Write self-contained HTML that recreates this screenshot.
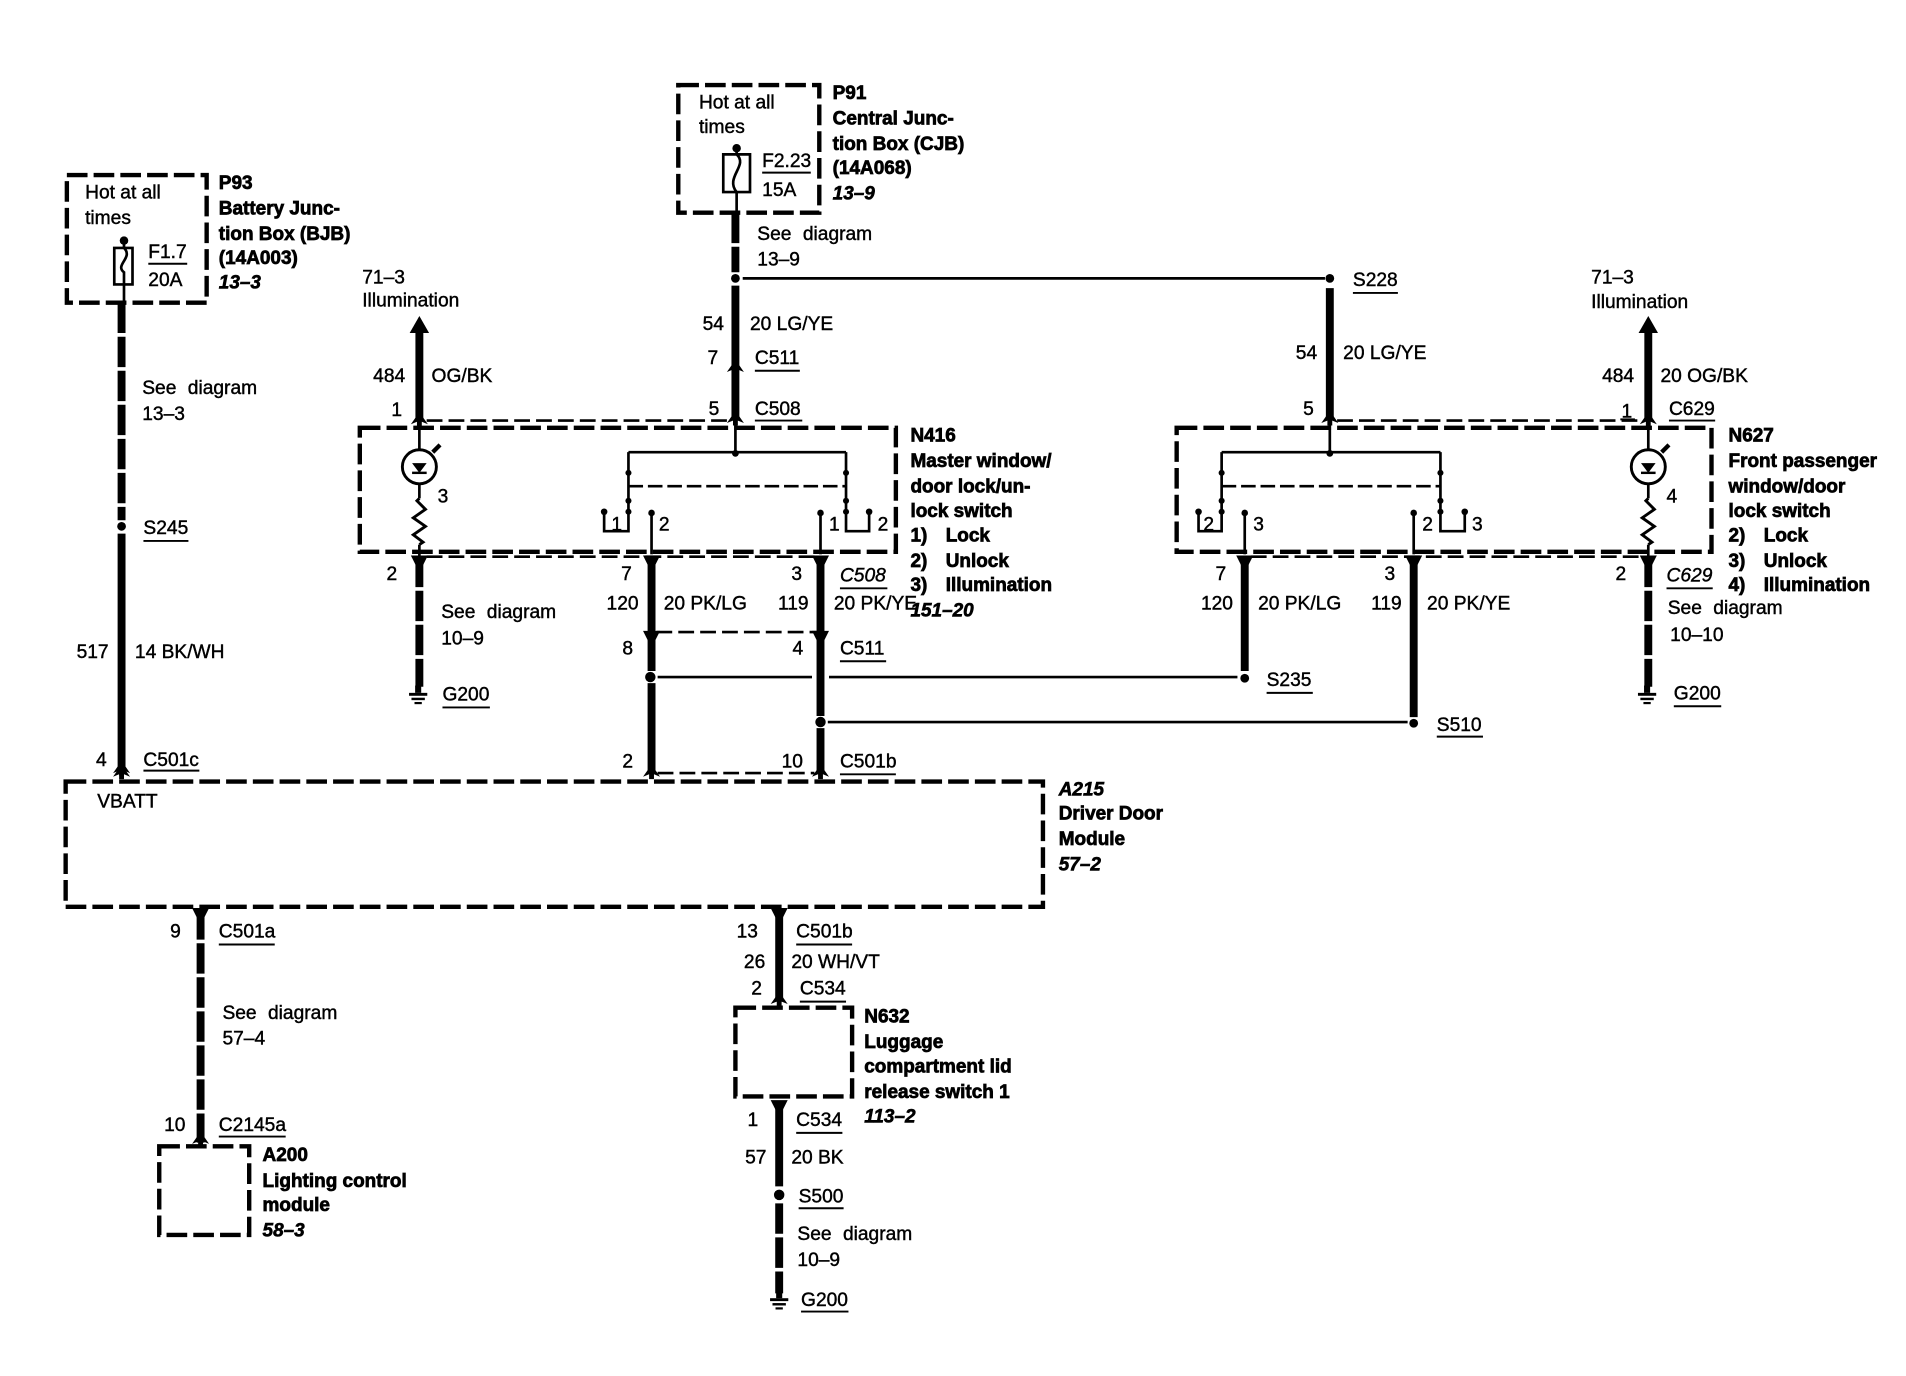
<!DOCTYPE html>
<html><head><meta charset="utf-8"><title>Wiring diagram</title>
<style>
html,body{margin:0;padding:0;background:#fff}
svg{display:block}
text{font-family:"Liberation Sans",sans-serif;font-size:15.8px;dominant-baseline:central;fill:#000;stroke:#000;stroke-width:.35;transform:translateY(.8px)}
.b{font-weight:bold;font-size:15.6px;stroke-width:.6}
.i{font-weight:bold;font-style:italic;font-size:15.6px;stroke-width:.5}
.it{font-style:italic}
.s{word-spacing:5px}
.w{fill:none;stroke:#000;stroke-width:6.5}
.d{fill:none;stroke:#000;stroke-width:6.5;stroke-dasharray:25 3}
.t{fill:none;stroke:#000;stroke-width:2.2}
.c{fill:none;stroke:#000;stroke-width:2.2;stroke-dasharray:13 5}
.x{fill:none;stroke:#000;stroke-width:3.6;stroke-dasharray:17 5}
.u{fill:none;stroke:#000;stroke-width:1.6}
</style></head><body>
<svg width="1906" height="1376" viewBox="0 0 1568 1132" xmlns="http://www.w3.org/2000/svg">
<defs>
<path id="up" d="M0,-7 L7,3 L2,1 L2,5 L-2,5 L-2,1 L-7,3 Z"/>
<path id="dn" d="M-7,-3 L7,-3 L2,7 L-2,7 Z"/>
<g id="gnd"><rect x="-2.5" y="-7" width="5" height="6"/><rect x="-7.5" y="-1" width="15" height="2.4"/><rect x="-5.5" y="3" width="11" height="2"/><rect x="-3" y="6.5" width="6" height="1.8"/></g>
<g id="lamp" fill="none" stroke="#000"><circle r="14" stroke-width="2.4"/><path d="M-6,-3 L6,-3 L0,5 Z" fill="#000" stroke="none"/><path d="M-6,5 L6,5" stroke-width="2"/><path d="M11,-12 L17,-18" stroke-width="3.5"/></g>
<path id="res" d="M0,0 L-2,2 L5,9 L-5,16 L5,23 L-5,30 L3,36 L0,38" fill="none" stroke="#000" stroke-width="2.4"/>
</defs>

<!-- P93 -->
<rect class="x" x="55" y="144" width="115" height="105"/>
<text x="70" y="158">Hot at all</text><text x="70" y="179">times</text>
<circle cx="102" cy="198" r="3.5"/><path class="t" d="M102,198V204M94,204H109V234H94ZM102,204C110,212 94,218 102,224V234M102,234V250"/>
<text x="122" y="207">F1.7</text><path class="u" d="M122,217H154"/><text x="122" y="230">20A</text>
<text class="b" x="180" y="150">P93</text><text class="b" x="180" y="171">Battery Junc-</text><text class="b" x="180" y="192">tion Box (BJB)</text><text class="b" x="180" y="212">(14A003)</text><text class="i" x="180" y="232">13–3</text>
<path class="d" d="M100,249V428"/><circle cx="100" cy="433" r="3.6"/><path class="w" d="M100,439V632"/><use href="#up" x="100" y="633"/>
<text class="s" x="117" y="319">See diagram</text><text x="117" y="340">13–3</text>
<text x="118" y="434">S245</text><path class="u" d="M118,445H155"/>
<text x="63" y="536">517</text><text x="111" y="536">14 BK/WH</text>
<text x="79" y="625">4</text><text x="118" y="625">C501c</text><path class="u" d="M118,634H164"/>

<!-- A215 -->
<rect class="x" x="54" y="643" width="804" height="103"/>
<text x="80" y="659">VBATT</text>
<text class="i" x="871" y="649">A215</text><text class="b" x="871" y="669">Driver Door</text><text class="b" x="871" y="690">Module</text><text class="i" x="871" y="711">57–2</text>

<!-- A200 -->
<use href="#dn" x="165" y="750"/>
<path class="d" d="M165,748V940"/><use href="#up" x="165" y="938"/>
<text x="140" y="766">9</text><text x="180" y="766">C501a</text><path class="u" d="M180,777H226"/>
<text class="s" x="183" y="833">See diagram</text><text x="183" y="854">57–4</text>
<text x="135" y="925">10</text><text x="180" y="925">C2145a</text><path class="u" d="M180,935H235"/>
<rect class="x" x="131" y="943" width="74" height="73"/>
<text class="b" x="216" y="950">A200</text><text class="b" x="216" y="971">Lighting control</text><text class="b" x="216" y="991">module</text><text class="i" x="216" y="1012">58–3</text>

<!-- N632 -->
<use href="#dn" x="641" y="750"/><path class="w" d="M641,748V824"/><use href="#up" x="641" y="823"/>
<text x="606" y="766">13</text><text x="655" y="766">C501b</text><path class="u" d="M655,777H701"/>
<text x="612" y="791">26</text><text x="651" y="791">20 WH/VT</text>
<text x="618" y="813">2</text><text x="658" y="813">C534</text><path class="u" d="M658,824H696"/>
<rect class="x" x="605" y="829" width="96" height="73"/>
<text class="b" x="711" y="836">N632</text><text class="b" x="711" y="857">Luggage</text><text class="b" x="711" y="877">compartment lid</text><text class="b" x="711" y="898">release switch 1</text><text class="i" x="711" y="918">113–2</text>
<use href="#dn" x="641" y="908"/><path class="w" d="M641,906V976"/>
<text x="615" y="921">1</text><text x="655" y="921">C534</text><path class="u" d="M655,932H693"/>
<text x="613" y="952">57</text><text x="651" y="952">20 BK</text>
<circle cx="641" cy="983" r="4.3"/><text x="657" y="984">S500</text><path class="u" d="M657,994H694"/>
<path class="d" d="M641,990V1064"/><use href="#gnd" x="641" y="1069"/>
<text class="s" x="656" y="1015">See diagram</text><text x="656" y="1036">10–9</text>
<text x="659" y="1069">G200</text><path class="u" d="M659,1079H698"/>

<!-- P91 -->
<rect class="x" x="558" y="70" width="116" height="105"/>
<text x="575" y="84">Hot at all</text><text x="575" y="104">times</text>
<circle cx="606" cy="122" r="3.5"/><path class="t" d="M606,122V127M595,127H617V158H595ZM606,127C616,136 596,146 606,158V175"/>
<text x="627" y="132">F2.23</text><path class="u" d="M627,142H667"/><text x="627" y="156">15A</text>
<text class="b" x="685" y="76">P91</text><text class="b" x="685" y="97">Central Junc-</text><text class="b" x="685" y="118">tion Box (CJB)</text><text class="b" x="685" y="138">(14A068)</text><text class="i" x="685" y="159">13–9</text>
<path class="d" d="M605,175V224"/><circle cx="605" cy="229" r="3.6"/><path class="w" d="M605,235V345"/><use href="#up" x="605" y="303"/><use href="#up" x="605" y="345"/>
<text class="s" x="623" y="192">See diagram</text><text x="623" y="213">13–9</text>
<path class="t" d="M611,229H1090"/><circle cx="1094" cy="229" r="3.6"/>
<text x="1113" y="230">S228</text><path class="u" d="M1113,241H1150"/>
<text x="578" y="266">54</text><text x="617" y="266">20 LG/YE</text>
<text x="582" y="294">7</text><text x="621" y="294">C511</text><path class="u" d="M621,305H658"/>
<text x="583" y="336">5</text><text x="621" y="336">C508</text><path class="u" d="M621,346H660"/>

<!-- 71-3 left -->
<path class="w" d="M345,272V346"/><path d="M345,260L353,274H337Z"/><use href="#up" x="345" y="346"/>
<text x="298" y="228">71–3</text><text x="298" y="247">Illumination</text>
<text x="307" y="309">484</text><text x="355" y="309">OG/BK</text><text x="322" y="337">1</text>
<path class="c" d="M351,346H600"/>

<!-- N416 -->
<rect class="x" x="296" y="352" width="441" height="102"/>
<path class="t" d="M345,347V371M345,397V410M345,448V458"/><use href="#lamp" x="345" y="384"/><use href="#res" x="345" y="410"/>
<text x="360" y="408">3</text>
<text class="b" x="749" y="358">N416</text><text class="b" x="749" y="379">Master window/</text><text class="b" x="749" y="400">door lock/un-</text><text class="b" x="749" y="420">lock switch</text><text class="b" x="749" y="440">1)</text><text class="b" x="778" y="440">Lock</text><text class="b" x="749" y="461">2)</text><text class="b" x="778" y="461">Unlock</text><text class="b" x="749" y="481">3)</text><text class="b" x="778" y="481">Illumination</text>
<path class="t" d="M605,347V372M517,372H696M517,372V420M696,372V420"/>
<circle cx="605" cy="373" r="2.8"/><circle cx="517" cy="389" r="2.5"/><circle cx="696" cy="389" r="2.5"/><circle cx="517" cy="412" r="2.5"/><circle cx="696" cy="412" r="2.5"/><circle cx="517" cy="421" r="2.5"/><circle cx="696" cy="421" r="2.5"/>
<path class="c" d="M517,400H696" style="stroke-dasharray:12 4"/>
<circle cx="497" cy="421" r="2.7"/><path class="t" d="M497,421V437H517V421"/><text x="503" y="431">1</text>
<circle cx="536" cy="422" r="2.7"/><path class="t" d="M536,422V456"/><text x="542" y="431">2</text>
<circle cx="675" cy="422" r="2.7"/><path class="t" d="M675,422V456"/><text x="682" y="431">1</text>
<circle cx="715" cy="421" r="2.7"/><path class="t" d="M696,421V437H715V421"/><text x="722" y="431">2</text>

<use href="#dn" x="345" y="460"/><use href="#dn" x="536" y="460"/><use href="#dn" x="675" y="460"/>
<path class="c" d="M351,458H670"/>
<path class="d" d="M345,458V565"/><use href="#gnd" x="344" y="571"/>
<text x="318" y="472">2</text><text class="s" x="363" y="503">See diagram</text><text x="363" y="525">10–9</text>
<text x="364" y="571">G200</text><path class="u" d="M364,582H403"/>
<path class="w" d="M536,458V552M536,562V634M675,458V589M675,599V634"/>
<use href="#dn" x="536" y="522"/><use href="#dn" x="675" y="522"/>
<circle cx="535" cy="557" r="4.3"/><circle cx="675" cy="594" r="4.3"/>
<text x="511" y="472">7</text><text x="651" y="472">3</text><text class="it" x="691" y="473">C508</text><path class="u" d="M691,484H730"/>
<text x="499" y="496">120</text><text x="546" y="496">20 PK/LG</text><text x="640" y="496">119</text><text x="686" y="496">20 PK/YE</text>
<text class="i" x="749" y="502">151–20</text>
<path class="c" d="M540,520H672"/>
<text x="512" y="533">8</text><text x="652" y="533">4</text><text x="691" y="533">C511</text><path class="u" d="M691,544H729"/>
<path class="t" d="M541,557H668M682,557H1018"/><circle cx="1024" cy="558" r="3.6"/><text x="1042" y="559">S235</text><path class="u" d="M1042,570H1080"/>
<path class="t" d="M681,594H1158"/><circle cx="1163" cy="595" r="3.6"/><text x="1182" y="596">S510</text><path class="u" d="M1182,606H1220"/>
<text x="512" y="626">2</text><text x="643" y="626">10</text><text x="691" y="626">C501b</text><path class="u" d="M691,637H737"/>
<use href="#up" x="536" y="636"/><use href="#up" x="675" y="636"/><path class="c" d="M541,636H670"/>
<use href="#up" x="100" y="636"/>

<!-- right -->
<path class="w" d="M1094,237V345"/><use href="#up" x="1094" y="345"/>
<text x="1066" y="290">54</text><text x="1105" y="290">20 LG/YE</text><text x="1072" y="336">5</text>
<path class="c" d="M1100,346H1350"/>
<path class="w" d="M1356,272V346"/><path d="M1356,260L1364,274H1348Z"/><use href="#up" x="1356" y="346"/>
<text x="1309" y="228">71–3</text><text x="1309" y="248">Illumination</text>
<text x="1318" y="309">484</text><text x="1366" y="309">20 OG/BK</text>
<text x="1334" y="338">1</text><path class="u" d="M1333,345H1345"/><text x="1373" y="336">C629</text><path class="u" d="M1373,346H1411"/>

<rect class="x" x="968" y="352" width="440" height="102"/>
<path class="t" d="M1356,347V371M1356,397V410M1356,448V458"/><use href="#lamp" x="1356" y="384"/><use href="#res" x="1356" y="410"/>
<text x="1371" y="408">4</text>
<text class="b" x="1422" y="358">N627</text><text class="b" x="1422" y="379">Front passenger</text><text class="b" x="1422" y="400">window/door</text><text class="b" x="1422" y="420">lock switch</text><text class="b" x="1422" y="440">2)</text><text class="b" x="1451" y="440">Lock</text><text class="b" x="1422" y="461">3)</text><text class="b" x="1451" y="461">Unlock</text><text class="b" x="1422" y="481">4)</text><text class="b" x="1451" y="481">Illumination</text>
<path class="t" d="M1094,347V372M1005,372H1185M1005,372V420M1185,372V420"/>
<circle cx="1094" cy="373" r="2.8"/><circle cx="1005" cy="389" r="2.5"/><circle cx="1185" cy="389" r="2.5"/><circle cx="1005" cy="412" r="2.5"/><circle cx="1185" cy="412" r="2.5"/><circle cx="1005" cy="421" r="2.5"/><circle cx="1185" cy="421" r="2.5"/>
<path class="c" d="M1005,400H1185" style="stroke-dasharray:12 4"/>
<circle cx="986" cy="421" r="2.7"/><path class="t" d="M986,421V437H1005V421"/><text x="990" y="431">2</text>
<circle cx="1024" cy="422" r="2.7"/><path class="t" d="M1024,422V456"/><text x="1031" y="431">3</text>
<circle cx="1163" cy="422" r="2.7"/><path class="t" d="M1163,422V456"/><text x="1170" y="431">2</text>
<circle cx="1205" cy="421" r="2.7"/><path class="t" d="M1185,421V437H1205V421"/><text x="1211" y="431">3</text>

<use href="#dn" x="1024" y="460"/><use href="#dn" x="1163" y="460"/><use href="#dn" x="1356" y="460"/>
<path class="c" d="M1029,458H1350"/>
<path class="w" d="M1024,458V552M1163,458V590"/><path class="d" d="M1356,458V565"/><use href="#gnd" x="1355" y="571"/>
<text x="1000" y="472">7</text><text x="1139" y="472">3</text><text x="1329" y="472">2</text><text class="it" x="1371" y="473">C629</text><path class="u" d="M1371,484H1409"/>
<text x="988" y="496">120</text><text x="1035" y="496">20 PK/LG</text><text x="1128" y="496">119</text><text x="1174" y="496">20 PK/YE</text>
<text class="s" x="1372" y="500">See diagram</text><text x="1374" y="522">10–10</text>
<text x="1377" y="570">G200</text><path class="u" d="M1377,581H1416"/>
</svg>
</body></html>
